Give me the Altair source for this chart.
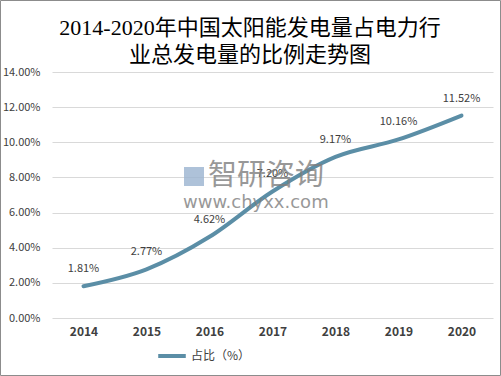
import altair as alt
import pandas as pd

years = ["2014", "2015", "2016", "2017", "2018", "2019", "2020"]
share = [1.81, 2.77, 4.62, 7.20, 9.17, 10.16, 11.52]
labels = ["1.81%", "2.77%", "4.62%", "7.20%", "9.17%", "10.16%", "11.52%"]
series_name = "占比（%）"
title_lines = ["2014-2020年中国太阳能发电量占电力行", "业总发电量的比例走势图"]
y_ticks = [0, 2, 4, 6, 8, 10, 12, 14]

df = pd.DataFrame({"year": years, "share": share, "label": labels, "series": series_name})

LINE = "#5b8ea6"
CJK = "Noto Sans CJK SC"
SERIF = "Liberation Serif, " + CJK

x_enc = alt.X("year:N", sort=years, title=None,
              scale=alt.Scale(paddingInner=0, paddingOuter=0.5),
              axis=alt.Axis(labelAngle=0, ticks=False, domain=False, labelFont=CJK,
                            labelFontWeight="bold", labelFontSize=12, labelColor="#404040",
                            labelPadding=8))
y_enc = alt.Y("share:Q", title=None,
              scale=alt.Scale(domain=[0, 14], nice=False),
              axis=alt.Axis(values=y_ticks, labelExpr="format(datum.value/100, '.2%')",
                            labelOverlap=False, labelFlush=False, tickCount=8,
                            ticks=False, domain=False, labelFont=CJK, labelFontSize=11,
                            labelColor="#404040", labelPadding=12,
                            gridColor="#d9d9d9", gridWidth=1))

line = alt.Chart(df).mark_line(strokeWidth=4, interpolate="monotone", strokeCap="round").encode(
    x=x_enc, y=y_enc,
    color=alt.Color("series:N", scale=alt.Scale(range=[LINE]),
                    legend=alt.Legend(title=None, orient="none", legendX=104, legendY=268,
                                      symbolType="stroke", symbolSize=760, symbolStrokeWidth=4,
                                      labelFont=CJK, labelFontSize=12, labelColor="#404040",
                                      labelOffset=3))
)

text = alt.Chart(df).mark_text(dy=-17, fontSize=11, font=CJK, color="#404040").encode(
    x=x_enc, y=y_enc, text="label:N"
)

title1 = alt.Chart(pd.DataFrame({"t": [title_lines[0]]})).mark_text(
    fontSize=22, font=SERIF, color="#000000").encode(
    x=alt.value(198), y=alt.value(-44), text="t:N")
title2 = alt.Chart(pd.DataFrame({"t": [title_lines[1]]})).mark_text(
    fontSize=22, font=SERIF, color="#000000").encode(
    x=alt.value(198), y=alt.value(-17), text="t:N")

wm1 = alt.Chart(pd.DataFrame({"t": ["智研咨询"]})).mark_text(
    fontSize=29, font=CJK, color="#7f7f7f", opacity=0.8, align="left").encode(
    x=alt.value(156), y=alt.value(104), text="t:N")
wm2 = alt.Chart(pd.DataFrame({"t": ["www.chyxx.com"]})).mark_text(
    fontSize=18, font="DejaVu Sans", color="#7f7f7f", opacity=0.8, align="left").encode(
    x=alt.value(131), y=alt.value(131), text="t:N")
logo = alt.Chart(pd.DataFrame({"a": [1]})).mark_rect(color="#9ab3cf", opacity=0.8).encode(
    x=alt.value(132), x2=alt.value(152), y=alt.value(95), y2=alt.value(114))

border = alt.Chart(pd.DataFrame({"a": [1]})).mark_rect(
    fill=None, stroke="#8c8c8c", strokeWidth=1).encode(
    x=alt.value(-51.5), x2=alt.value(448.5), y=alt.value(-71.5), y2=alt.value(303.5))

chart = alt.layer(border, line, text, wm1, wm2, logo, title1, title2).properties(
    width=441, height=246,
    autosize=alt.AutoSizeParams(type="none"),
    padding={"left": 52, "top": 72, "right": 8, "bottom": 58},
    background="white",
).configure_view(stroke=None)

chart.save("out.html", embed_options={"renderer": "svg", "actions": False})
